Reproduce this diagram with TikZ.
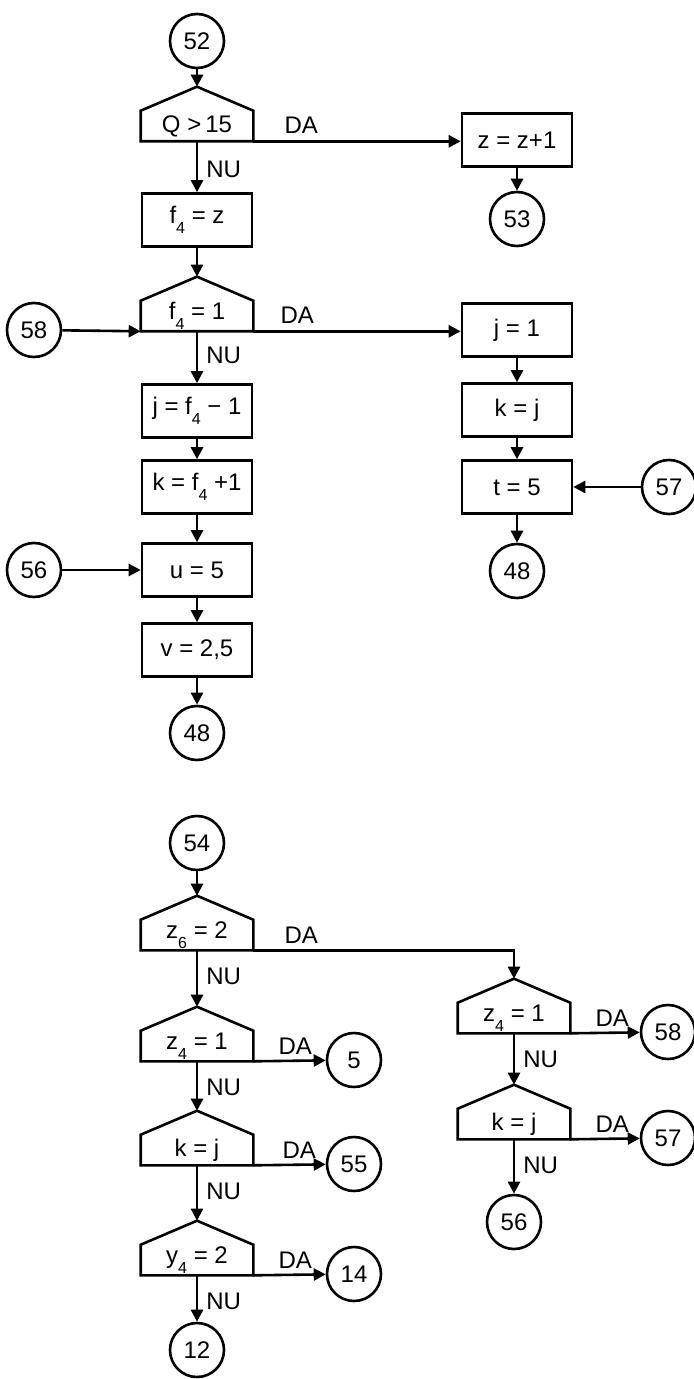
\documentclass[tikz,border=0pt]{standalone}
\usepackage{fontspec}
\setmainfont{Liberation Sans}
\usepackage{tikz}
\usetikzlibrary{arrows.meta, positioning}

\newcommand{\idx}[1]{\raisebox{-0.8ex}{\footnotesize #1}}

\begin{document}
\begin{tikzpicture}[x=0.5pt, y=-0.5pt, >={Triangle[length=6pt, width=6pt]}, line width=1.3pt, font=\fontsize{12}{14}\selectfont,
		box/.style={draw, rectangle, minimum width=55pt, minimum height=26.5pt, inner sep=0pt},
		cond/.style={rectangle, minimum width=55pt, minimum height=14pt, inner sep=0pt},
		conn/.style={draw, circle, minimum size=27pt, inner sep=0pt},
		lbl/.style={inner sep=1pt}]
				\useasboundingbox (0,0) rectangle (694,1379);
				
				\node[conn] (c52) at (197, 41) {52};
				\node[cond] (q15) at (197, 126) {Q >\,15};
				\node[box] (f4z) at (197, 220) {f\idx{4} = z};
				\node[cond] (f41) at (197, 316) {f\idx{4} = 1};
				\node[box] (jf) at (197, 411) {j = f\idx{4} − 1};
				\node[box] (kf) at (197, 487) {k = f\idx{4} +1};
				\node[box] (u5) at (197, 570) {u = 5};
				\node[box] (v25) at (197, 650) {v = 2,5};
				\node[conn] (c48a) at (197, 733) {48};
				\node[conn] (c58a) at (34, 330) {58};
				\node[conn] (c56a) at (34, 570) {56};
				
				\node[box] (z1) at (517, 140) {z = z+1};
				\node[conn] (c53) at (517, 219) {53};
				\node[box] (j1) at (517, 330) {j = 1};
				\node[box] (kj) at (517, 410) {k = j};
				\node[box] (t5) at (517, 487) {t = 5};
				\node[conn] (c57a) at (669, 487) {57};
				\node[conn] (c48b) at (517, 571) {48};
				
				\node[conn] (c54) at (197, 843) {54};
				\node[cond] (z62) at (197, 935) {z\idx{6} = 2};
				\node[cond] (z4a) at (197, 1046) {z\idx{4} = 1};
				\node[conn] (c5) at (354, 1060) {5};
				\node[cond] (kja) at (197, 1150) {k = j};
				\node[conn] (c55) at (354, 1164) {55};
				\node[cond] (y42) at (197, 1260) {y\idx{4} = 2};
				\node[conn] (c14) at (354, 1274) {14};
				\node[conn] (c12) at (197, 1350) {12};
				
				\node[cond] (z4b) at (514, 1018) {z\idx{4} = 1};
				\node[conn] (c58b) at (668, 1032) {58};
				\node[cond] (kjb) at (514, 1124) {k = j};
				\node[conn] (c57b) at (668, 1138) {57};
				\node[conn] (c56b) at (514, 1222) {56};
				
				\foreach \n in {q15, f41, z62, z4a, kja, y42, z4b, kjb} {
					\draw (\n.south west) -- (\n.north west) -- ([yshift=12pt]\n.north) -- (\n.north east) -- (\n.south east) -- cycle;
					\coordinate (\n-top) at ([yshift=12pt]\n.north);
				}
				
				\node[lbl, above right=2pt and 14pt of q15.south east] (da1) {DA};
				\node[lbl, above right=2pt and 12pt of f41.south east] (da2) {DA};
				\node[lbl, above right=2pt and 14pt of z62.south east] (da3) {DA};
				\node[lbl, above right=2pt and 11pt of z4a.south east] (da4) {DA};
				\node[lbl, above right=2pt and 13pt of kja.south east] (da5) {DA};
				\node[lbl, above right=2pt and 11pt of y42.south east] (da6) {DA};
				\node[lbl, above right=2pt and 11pt of z4b.south east] (da7) {DA};
				\node[lbl, above right=2pt and 11pt of kjb.south east] (da8) {DA};
				
				\node[lbl, below right=8pt and 3pt of q15.south] (nu1) {NU};
				\node[lbl, below right=6pt and 3pt of f41.south] (nu2) {NU};
				\node[lbl, below right=7pt and 3pt of z62.south] (nu3) {NU};
				\node[lbl, below right=7pt and 3pt of z4a.south] (nu4) {NU};
				\node[lbl, below right=7pt and 3pt of kja.south] (nu5) {NU};
				\node[lbl, below right=7pt and 3pt of y42.south] (nu6) {NU};
				\node[lbl, below right=7pt and 3pt of z4b.south] (nu7) {NU};
				\node[lbl, below right=7pt and 3pt of kjb.south] (nu8) {NU};
				
				\draw[->] (c52) -- (q15-top);
				\draw[->] (q15.south east) -- (q15.south east -| z1.west);
				\draw[->] (q15.south) -- (f4z);
				\draw[->] (z1) -- (c53);
				\draw[->] (f4z) -- (f41-top);
				\draw[->] (c58a) -- (f41.south west);
				\draw[->] (f41.south east) -- (f41.south east -| j1.west);
				\draw[->] (f41.south) -- (jf);
				\draw[->] (jf) -- (kf);
				\draw[->] (kf) -- (u5);
				\draw[->] (c56a) -- (u5);
				\draw[->] (u5) -- (v25);
				\draw[->] (v25) -- (c48a);
				
				\draw[->] (j1) -- (kj);
				\draw[->] (kj) -- (t5);
				\draw[->] (c57a) -- (t5);
				\draw[->] (t5) -- (c48b);
				
				\draw[->] (c54) -- (z62-top);
				\draw[->] (z62.south east) -| (z4b-top);
				\draw[->] (z62.south) -- (z4a-top);
				\draw[->] (z4a.south east) -- (c5);
				\draw[->] (z4a.south) -- (kja-top);
				\draw[->] (kja.south east) -- (c55);
				\draw[->] (kja.south) -- (y42-top);
				\draw[->] (y42.south east) -- (c14);
				\draw[->] (y42.south) -- (c12);
				
				\draw[->] (z4b.south east) -- (c58b);
				\draw[->] (z4b.south) -- (kjb-top);
				\draw[->] (kjb.south east) -- (c57b);
				\draw[->] (kjb.south) -- (c56b);
			\end{tikzpicture}
\end{document}
